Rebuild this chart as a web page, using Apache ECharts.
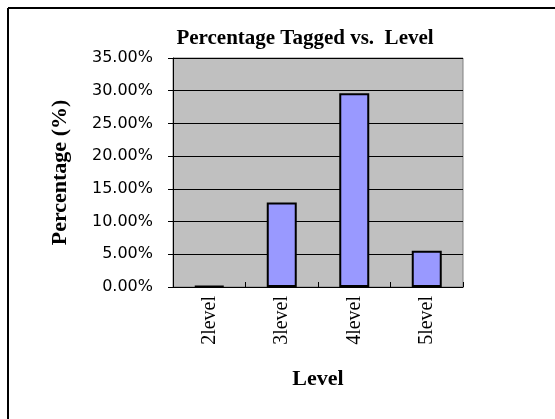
<!DOCTYPE html>
<html>
<head>
<meta charset="utf-8">
<script src="https://cdn.jsdelivr.net/npm/echarts@6/dist/echarts.min.js"></script>
<style>
html,body{margin:0;padding:0;background:#fff;}
#chart{width:555px;height:419px;}
</style>
</head>
<body>
<div id="chart"></div>
<script>
const categories = ['2level', '3level', '4level', '5level'];
const percentages = [0.15, 12.9, 29.6, 5.55];
const yTicks = [0, 5, 10, 15, 20, 25, 30, 35];

const chart = echarts.init(document.getElementById('chart'), null, {renderer: 'canvas'});
const serif = '"Liberation Serif", "DejaVu Serif", serif';
const sans = '"DejaVu Sans", "Liberation Sans", sans-serif';

chart.setOption({
  animation: false,
  backgroundColor: '#ffffff',
  title: {
    text: 'Percentage Tagged vs.  Level',
    left: 300, top: 23, textAlign: 'center',
    textStyle: {fontFamily: serif, fontWeight: 'bold', fontSize: 21, color: '#000'}
  },
  graphic: [
    {type: 'line', shape: {x1: 8, y1: 8, x2: 8, y2: 419}, style: {stroke: '#000', lineWidth: 2}},
    {type: 'line', shape: {x1: 8, y1: 8, x2: 555, y2: 8}, style: {stroke: '#000', lineWidth: 2}}
  ],
  grid: {
    left: 173, right: 92, top: 58, bottom: 132,
    show: true, backgroundColor: '#c0c0c0', borderColor: '#808080', borderWidth: 1
  },
  xAxis: {
    type: 'category',
    data: categories,
    name: 'Level',
    nameLocation: 'middle',
    nameGap: 81,
    nameTextStyle: {fontFamily: serif, fontWeight: 'bold', fontSize: 22, color: '#000'},
    axisLine: {show: true, lineStyle: {color: '#000', width: 1}},
    axisTick: {show: true, inside: true, length: 5, lineStyle: {color: '#000'}},
    axisLabel: {rotate: 90, margin: 9, fontFamily: serif, fontSize: 20, color: '#000'},
    splitLine: {show: false}
  },
  yAxis: {
    type: 'value',
    min: 0, max: 35, interval: 5,
    name: 'Percentage (%)',
    nameLocation: 'middle',
    nameGap: 102,
    nameTextStyle: {fontFamily: serif, fontWeight: 'bold', fontSize: 22, color: '#000'},
    axisLine: {show: true, lineStyle: {color: '#000', width: 1}},
    axisTick: {show: true, inside: false, length: 5, lineStyle: {color: '#000'}},
    axisLabel: {
      margin: 20, color: '#000', fontFamily: sans, fontSize: 16,
      formatter: v => yTicks.includes(v) ? v.toFixed(2) + '%' : ''
    },
    splitLine: {show: true, lineStyle: {color: '#000', width: 1}}
  },
  series: [{
    type: 'bar',
    data: percentages,
    barWidth: 30,
    itemStyle: {color: '#9999ff', borderColor: '#000', borderWidth: 2}
  }]
});
</script>
</body>
</html>
